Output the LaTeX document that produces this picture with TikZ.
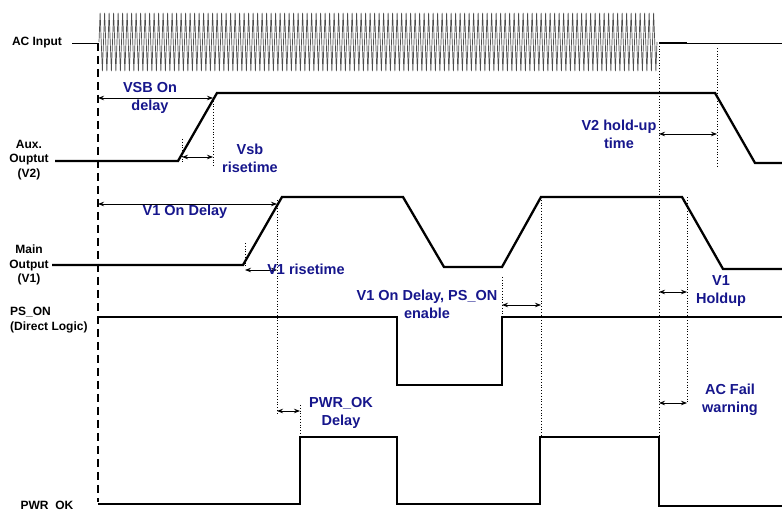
\documentclass[tikz,border=0pt]{standalone}
\usepackage{fontspec}
\setmainfont{Liberation Sans}
\usetikzlibrary{arrows.meta}
\definecolor{lblue}{RGB}{22,22,140}
\begin{document}
\begin{tikzpicture}[x=1pt,y=-1pt,
  wave/.style={line width=2.3pt, line join=miter},
  dim/.style={line width=0.8pt, {Stealth[length=6pt,width=4.5pt]}-{Stealth[length=6pt,width=4.5pt]}},
  guide/.style={line width=0.8pt, dotted},
  sig/.style={font=\fontsize{12}{14.5}\selectfont\bfseries, align=center, inner sep=0pt},
  note/.style={font=\fontsize{14.5}{18}\selectfont\bfseries, text=lblue, align=center, inner sep=0pt}]
\useasboundingbox (0,0) rectangle (782,510);

% signal labels
\node[sig] (lac) at (37,43) {AC Input};
\node[sig] (lv2) at (29,160) {Aux.\\Ouptut\\(V2)};
\node[sig] (lv1) at (29,265) {Main\\Output\\(V1)};
\node[sig, anchor=west, align=left] (lps) at (10,320) {PS\_ON\\(Direct Logic)};
\node[sig, anchor=north] (lpw) at (47,501) {PWR\_OK};

% AC input
\draw[line width=0.8pt] (72,43) -- (98,43);
\draw[line width=0.7pt, black!70, line join=round] (99,42)
  \foreach \i in {1,...,124} { -- ++(1.125,-29) -- ++(2.25,58) -- ++(1.125,-29) };
\draw[line width=0.8pt] (659,43) -- (782,43);
\draw[line width=1.6pt] (659,43) -- (687,43);

% start reference
\draw[line width=1.3pt, dash pattern=on 8pt off 5pt] (98,43) -- (98,502);

% waveforms
\draw[wave] (55,161) -- (178,161) -- (217,93) -- (715,93) -- (755,163) -- (782,163);
\draw[wave] (52,265) -- (243,265) -- (282,197) -- (403,197) -- (444,267) -- (502,267) -- (541,197) -- (682,197) -- (723,269) -- (782,269);
\draw[wave] (98,317) -- (397,317) -- (397,385) -- (502,385) -- (502,317) -- (782,317);
\draw[wave] (98,504) -- (300,504) -- (300,437) -- (397,437) -- (397,504) -- (540,504) -- (540,437) -- (659,437) -- (659,506) -- (782,506);

% guides
\draw[guide] (182,139) -- (182,163);
\draw[guide] (213,98) -- (213,167);
\draw[guide] (717,48) -- (717,168);
\draw[guide] (659,43) -- (659,437);
\draw[guide] (245,243) -- (245,268);
\draw[guide] (277,200) -- (277,415);
\draw[guide] (502,277) -- (502,317);
\draw[guide] (541,197) -- (541,437);
\draw[guide] (687,197) -- (687,403);
\draw[guide] (300,405) -- (300,437);

% dimension arrows
\draw[dim] (98,98) -- (213,98);
\draw[dim] (182,157) -- (213,157);
\draw[dim] (659,134) -- (717,134);
\draw[dim] (98,204) -- (277,204);
\draw[dim] (245,270) -- (277,270);
\draw[dim] (502,305) -- (541,305);
\draw[dim] (659,292) -- (687,292);
\draw[dim] (659,403) -- (687,403);
\draw[dim] (277,411) -- (300,411);

% annotations
\node[note] (n1) at (150,98) {VSB On\\delay};
\node[note] (n2) at (250,158) {Vsb\\risetime};
\node[note] (n3) at (185,212) {V1 On Delay};
\node[note] (n4) at (306,269) {V1 risetime};
\node[note] (n5) at (427,304) {V1 On Delay, PS\_ON\\enable};
\node[note] (n6) at (619,134) {V2 hold-up\\time};
\node[note] (n7) at (721,291) {V1\\Holdup};
\node[note] (n8) at (730,400) {AC Fail\\warning};
\node[note] (n9) at (341,413) {PWR\_OK\\Delay};
\end{tikzpicture}
\end{document}
